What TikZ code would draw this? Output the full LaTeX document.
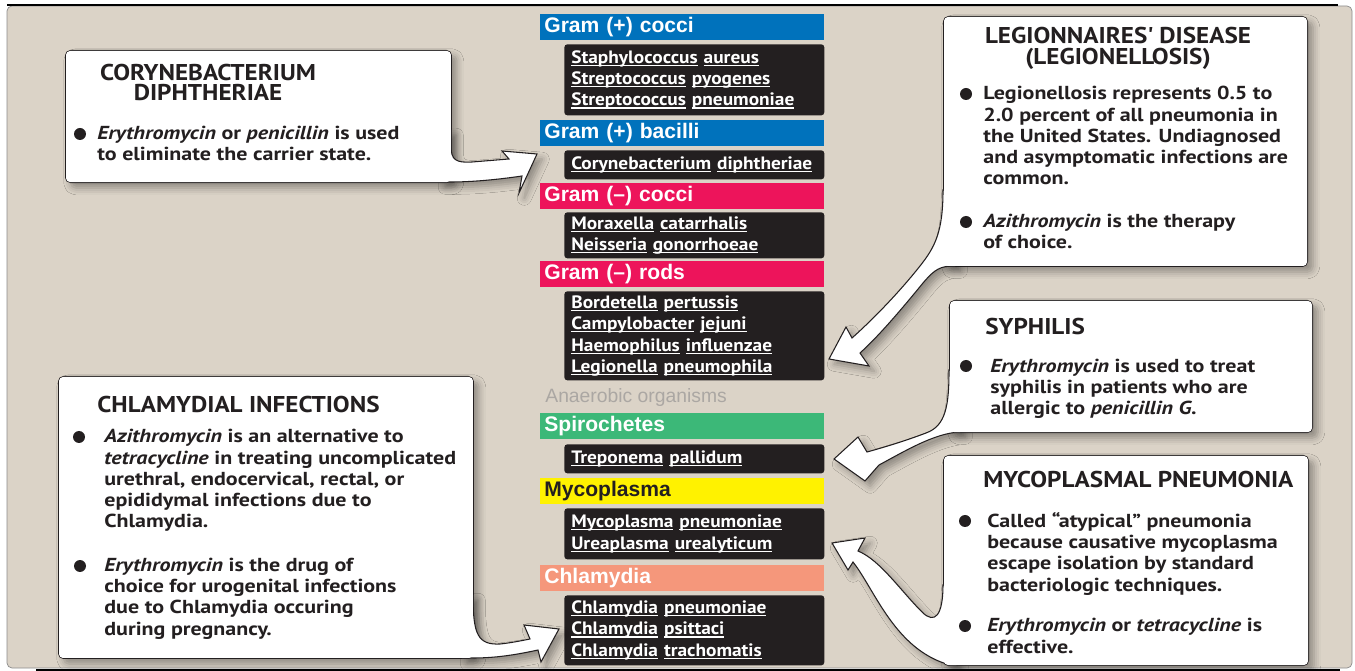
\documentclass[tikz,border=0pt]{standalone}
\usepackage{fontspec}
\setmainfont{PT Sans}
\newfontfamily\helv{Liberation Sans}
\newfontfamily\callfont[FakeStretch=1.17]{PT Sans}
\newfontfamily\listfont[FakeStretch=1.08]{PT Sans}
\newfontfamily\ttlfont[FakeStretch=1.1]{PT Sans}
\usetikzlibrary{shadows.blur}

\definecolor{panel}{HTML}{DBD3C7}
\definecolor{gpos}{HTML}{0072BC}
\definecolor{gneg}{HTML}{ED145B}
\definecolor{spiro}{HTML}{3CB878}
\definecolor{myco}{HTML}{FFF200}
\definecolor{chlam}{HTML}{F5977B}
\definecolor{listblk}{HTML}{231F20}
\definecolor{anaer}{HTML}{ABA7A3}

\newsavebox{\orgbox}
\newcommand{\ulword}[1]{\leavevmode\sbox{\orgbox}{#1}\rlap{\rule[-1.6pt]{\wd\orgbox}{0.7pt}}\usebox{\orgbox}}
\newcommand{\org}[2]{\ulword{#1} \ulword{#2}}

\tikzset{
  drop/.style={blur shadow={shadow xshift=3pt, shadow yshift=-3pt,
    shadow blur radius=4pt, shadow opacity=35}},
  hdr/.style={anchor=north west, minimum width=5.68cm, minimum height=0.52cm,
    text width=5.52cm, inner xsep=0.08cm, inner ysep=0pt, align=left,
    text height=9pt, text depth=2.7pt, text=white,
    font=\helv\bfseries\fontsize{12}{14}\selectfont},
  lst/.style={anchor=north west, fill=listblk, rounded corners=0.06cm, text=white,
    minimum width=5.2cm, text width=4.92cm, inner xsep=0.14cm, inner ysep=0pt,
    align=left, font=\listfont\bfseries\fontsize{10.2}{12.2}\selectfont},
  callbox/.style={anchor=north west, fill=white, draw=listblk, line width=0.6pt,
    rounded corners=0.1cm, inner sep=0pt, drop},
  callarrow/.style={fill=white, draw=listblk, line width=0.6pt, drop},
  ttl/.style={anchor=base west, inner sep=0pt, text=listblk,
    font=\ttlfont\bfseries\fontsize{13}{12.5}\selectfont},
  txt/.style={anchor=base west, inner sep=0pt, align=left, text=listblk,
    font=\callfont\bfseries\fontsize{10.7}{12.1}\selectfont},
  bul/.style={circle, fill=listblk, inner sep=0pt, minimum size=0.24cm},
}

\begin{document}
\begin{tikzpicture}[x=0.02cm, y=-0.02cm]
\useasboundingbox (0,0) rectangle (1355,671);
% panel
\draw[fill=panel, draw=black!45, line width=0.4pt, rounded corners=0.1cm] (7,6) rectangle (1352,668);
\draw[line width=0.8pt] (7,5) -- (1338,5);
\draw[line width=0.8pt] (36,670) -- (1340,670);

% organism column
\node[hdr, fill=gpos] (gpch) at (540,14) {Gram (+) cocci};
\node[lst, minimum height=1.42cm] (gpcl) at (564,44)
  {\org{Staphylococcus}{aureus}\\\org{Streptococcus}{pyogenes}\\\org{Streptococcus}{pneumoniae}};
\node[hdr, fill=gpos] (gpbh) at (540,120) {Gram (+) bacilli};
\node[lst, minimum height=0.58cm] (gpbl) at (564,150) {\org{Corynebacterium}{diphtheriae}};
\node[hdr, fill=gneg] (gnch) at (540,183) {Gram (–) cocci};
\node[lst, minimum height=0.92cm] (gncl) at (564,212)
  {\org{Moraxella}{catarrhalis}\\\org{Neisseria}{gonorrhoeae}};
\node[hdr, fill=gneg] (gnrh) at (540,261) {Gram (–) rods};
\node[lst, minimum height=1.78cm] (gnrl) at (564,291)
  {\org{Bordetella}{pertussis}\\\org{Campylobacter}{jejuni}\\\org{Haemophilus}{influenzae}\\\org{Legionella}{pneumophila}};
\node[anchor=base west, inner sep=0pt, text=anaer, font=\helv\fontsize{11}{13}\selectfont]
  (anaer) at (545,403) {Anaerobic organisms};
\node[hdr, fill=spiro] (spih) at (540,413) {Spirochetes};
\node[lst, minimum height=0.58cm] (spil) at (564,444) {\org{Treponema}{pallidum}};
\node[hdr, fill=myco, text=listblk] (mych) at (540,478) {Mycoplasma};
\node[lst, minimum height=1.02cm] (mycl) at (564,508)
  {\org{Mycoplasma}{pneumoniae}\\\org{Ureaplasma}{urealyticum}};
\node[hdr, fill=chlam] (chlh) at (540,565) {Chlamydia};
\node[lst, minimum height=1.4cm] (chll) at (564,595)
  {\org{Chlamydia}{pneumoniae}\\\org{Chlamydia}{psittaci}\\\org{Chlamydia}{trachomatis}};

% callout: corynebacterium
\node[callbox, minimum width=7.72cm, minimum height=2.64cm] (coryne) at (65,50) {};
\draw[callarrow] (451,130) -- (451,146) .. controls (451,160) and (456,163) .. (472,162)
  -- (509,159) -- (502,151) -- (537,154) -- (519,193) -- (522,176)
  .. controls (495,180) and (470,182) .. (451,182) -- (440,182) -- (440,130) -- cycle;
\fill[white, rounded corners=0.08cm] ([shift={(1,1)}]coryne.north west) rectangle ([shift={(-1,-1)}]coryne.south east);
\node[ttl, anchor=base, align=center, font=\ttlfont\bfseries\fontsize{13}{11.4}\selectfont]
  (corynettl) at (208,101) {CORYNEBACTERIUM\\DIPHTHERIAE};
\node[bul] (coryneb) at (80,134) {};
\node[txt] (corynetxt) at (97,161) {\textit{Erythromycin} or \textit{penicillin} is used\\to eliminate the carrier state.};

% callout: legionnaires
\node[callbox, minimum width=7.28cm, minimum height=5.0cm] (legion) at (943,16) {};
\draw[callarrow] (943,190) .. controls (943,232) and (935,247) .. (920,266)
  .. controls (897,295) and (870,322) .. (852,338) -- (846,327) -- (829,359) -- (869,366) -- (860,353)
  .. controls (880,335) and (905,305) .. (923,283) .. controls (935,269) and (940,266) .. (955,266)
  -- (955,250) -- (952,190) -- cycle;
\fill[white, rounded corners=0.08cm] ([shift={(1,1)}]legion.north west) rectangle ([shift={(-1,-1)}]legion.south east);
\node[ttl, anchor=base, align=center] (legionttl) at (1118,65) {LEGIONNAIRES\textquotesingle\ DISEASE\\(LEGIONELLOSIS)};
\node[bul] (legionb1) at (966,94) {};
\node[txt] (legiontxt1) at (983,185) {Legionellosis represents 0.5 to\\2.0 percent of all pneumonia in\\the United States. Undiagnosed\\and asymptomatic infections are\\common.};
\node[bul] (legionb2) at (966,222) {};
\node[txt] (legiontxt2) at (983,249) {\textit{Azithromycin} is the therapy\\of choice.};

% callout: syphilis
\node[callbox, minimum width=7.26cm, minimum height=2.64cm] (syph) at (949,300) {};
\draw[callarrow] (949,370) .. controls (949,405) and (946,426) .. (926,433)
  .. controls (905,441) and (885,447) .. (867,452) -- (858,437) -- (834,459) -- (865,481) -- (879,465)
  .. controls (905,451) and (935,433) .. (960,432) -- (960,420) -- (958,370) -- cycle;
\fill[white, rounded corners=0.08cm] ([shift={(1,1)}]syph.north west) rectangle ([shift={(-1,-1)}]syph.south east);
\node[ttl] (syphttl) at (985,335) {SYPHILIS};
\node[bul] (syphb) at (966,366) {};
\node[txt] (syphtxt) at (990,415) {\textit{Erythromycin} is used to treat\\syphilis in patients who are\\allergic to \textit{penicillin G.}};

% callout: mycoplasmal pneumonia
\node[callbox, minimum width=7.3cm, minimum height=4.2cm] (mycopn) at (943,455) {};
\draw[callarrow] (943,585) .. controls (943,615) and (935,625) .. (922,612)
  .. controls (900,590) and (880,560) .. (858,551) -- (865,538) -- (832,543) -- (848,570) -- (853,562)
  .. controls (875,590) and (895,650) .. (950,665) -- (956,665) -- (956,585) -- cycle;
\fill[white, rounded corners=0.08cm] ([shift={(1,1)}]mycopn.north west) rectangle ([shift={(-1,-1)}]mycopn.south east);
\node[ttl] (mycopnttl) at (983,488) {MYCOPLASMAL PNEUMONIA};
\node[bul] (mycopnb1) at (965,521) {};
\node[txt] (mycopntxt1) at (987,591) {Called “atypical” pneumonia\\because causative mycoplasma\\escape isolation by standard\\bacteriologic techniques.};
\node[bul] (mycopnb2) at (965,626) {};
\node[txt] (mycopntxt2) at (987,653) {\textit{Erythromycin} or \textit{tetracycline} is\\effective.};

% callout: chlamydial infections
\node[callbox, minimum width=8.3cm, minimum height=5.64cm] (chlinf) at (58,376) {};
\draw[callarrow] (473,595) .. controls (473,635) and (478,645) .. (500,644)
  .. controls (510,643) and (520,641) .. (530,639) -- (524,625) -- (559,629) -- (541,662) -- (538,650)
  .. controls (515,655) and (495,658) .. (473,658) -- (462,658) -- (462,595) -- cycle;
\fill[white, rounded corners=0.08cm] ([shift={(1,1)}]chlinf.north west) rectangle ([shift={(-1,-1)}]chlinf.south east);
\node[ttl] (chlinfttl) at (97,413) {CHLAMYDIAL INFECTIONS};
\node[bul] (chlinfb1) at (79,437) {};
\node[txt] (chlinftxt1) at (104,528) {\textit{Azithromycin} is an alternative to\\\textit{tetracycline} in treating uncomplicated\\urethral, endocervical, rectal, or\\epididymal infections due to\\Chlamydia.};
\node[bul] (chlinfb2) at (80,566) {};
\node[txt] (chlinftxt2) at (104,635) {\textit{Erythromycin} is the drug of\\choice for urogenital infections\\due to Chlamydia occuring\\during pregnancy.};
\end{tikzpicture}
\end{document}
